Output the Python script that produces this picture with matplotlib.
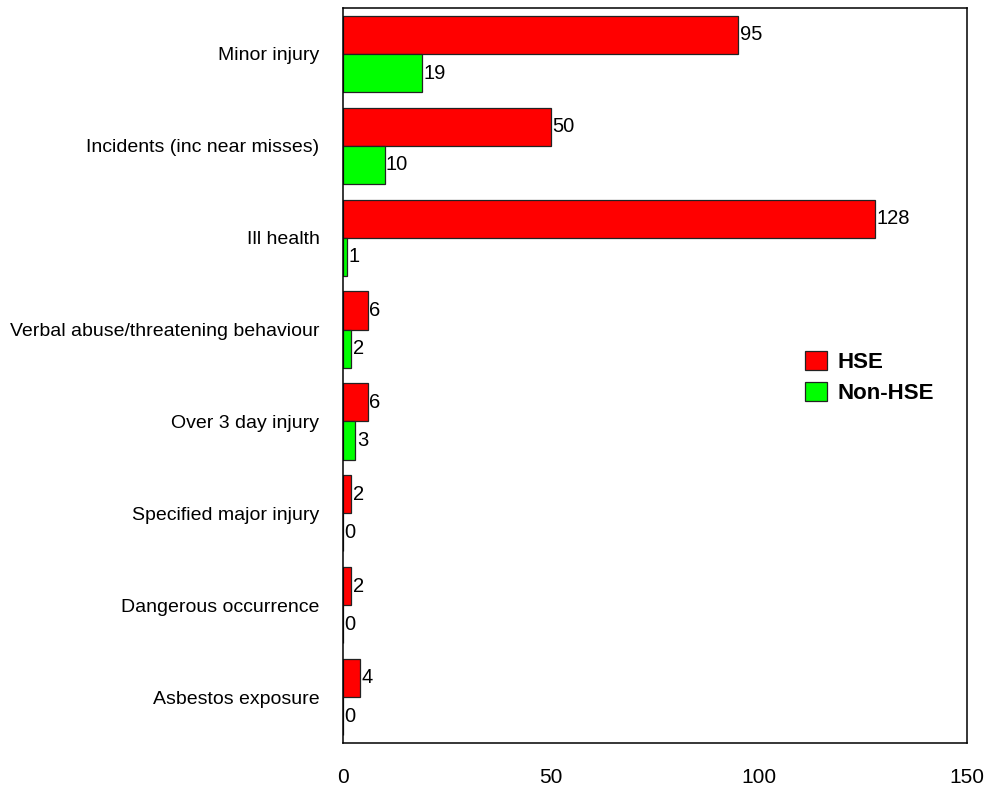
import numpy as np
import matplotlib
matplotlib.use('Agg')
import matplotlib.pyplot as plt

plt.rcParams['font.family'] = ['Liberation Sans', 'DejaVu Sans']

categories = ['Minor injury', 'Incidents (inc near misses)', 'Ill health',
              'Verbal abuse/threatening behaviour', 'Over 3 day injury',
              'Specified major injury', 'Dangerous occurrence', 'Asbestos exposure']
hse = [95, 50, 128, 6, 6, 2, 2, 4]
non_hse = [19, 10, 1, 2, 3, 0, 0, 0]
x_ticks = [0, 50, 100, 150]


def main():
    fig = plt.figure(figsize=(9.9, 7.91), dpi=100)
    ax = fig.add_axes([343 / 990, 1 - 743 / 791, 624 / 990, 735 / 791])

    y = np.arange(len(categories))
    h = 0.415
    b1 = ax.barh(y - h / 2, hse, height=h, color='#ff0000', edgecolor='#222222',
                 linewidth=0.9, label='HSE')
    b2 = ax.barh(y + h / 2, non_hse, height=h, color='#00ff00', edgecolor='#222222',
                 linewidth=0.9, label='Non-HSE')
    ax.bar_label(b1, padding=1.0, fontsize=14.5)
    ax.bar_label(b2, padding=1.0, fontsize=14.5)

    ax.set_ylim(len(categories) - 0.5, -0.5)
    ax.set_xlim(0, 150)
    ax.set_yticks(y)
    ax.set_yticklabels(categories, fontsize=14)
    ax.set_xticks(x_ticks)
    ax.tick_params(axis='x', length=0, pad=18, labelsize=15)
    ax.tick_params(axis='y', length=0, pad=17)
    for s in ax.spines.values():
        s.set_linewidth(1.1)

    ax.legend(loc='center left', bbox_to_anchor=(0.709, 0.497), frameon=False,
              prop={'weight': 'bold', 'size': 16}, handlelength=0.95,
              handleheight=0.95, handletextpad=0.5, labelspacing=0.4)

    fig.savefig('out.png', dpi=100)


if __name__ == '__main__':
    main()
